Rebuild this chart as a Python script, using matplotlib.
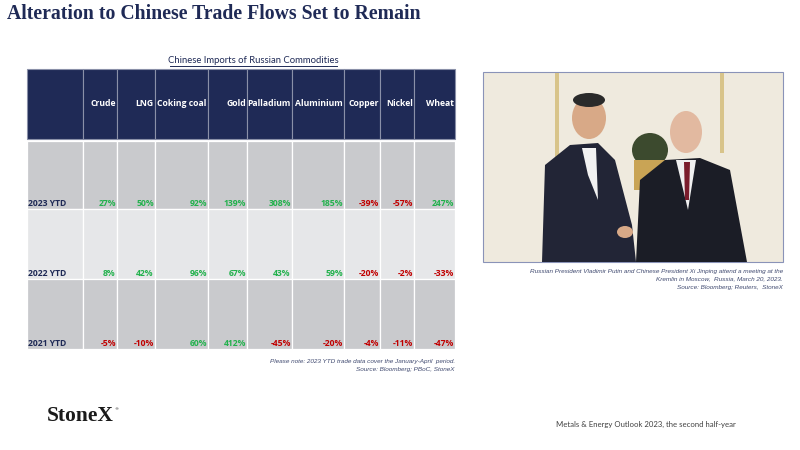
import matplotlib
matplotlib.use("Agg")
import matplotlib.pyplot as plt
from matplotlib.patches import Rectangle, Ellipse, Polygon

# table data
commodities = ["Crude", "LNG", "Coking coal", "Gold", "Palladium",
               "Aluminium", "Copper", "Nickel", "Wheat"]
years = ["2023 YTD", "2022 YTD", "2021 YTD"]
v2023 = [27, 50, 92, 139, 308, 185, -39, -57, 247]
v2022 = [8, 42, 96, 67, 43, 59, -20, -2, -33]
v2021 = [-5, -10, 60, 412, -45, -20, -4, -11, -47]
values = [v2023, v2022, v2021]

NAVY = "#1f2a56"
GREEN = "#22b14c"
RED = "#c00000"
ROW_BG = ["#c9cacd", "#e6e7e9", "#c9cacd"]

fig = plt.figure(figsize=(8, 4.5), dpi=100)
ax = fig.add_axes([0, 0, 1, 1])
ax.set_xlim(0, 800)
ax.set_ylim(450, 0)
ax.axis("off")

# title
ax.text(7, 14, "Alteration to Chinese Trade Flows Set to Remain",
        family="Liberation Serif", weight="bold", fontsize=14.2,
        color=NAVY, va="center", ha="left")

# table layout (pixels)
col_edges = [27, 83, 117, 155, 208, 247, 292, 344, 380, 414, 455]
head_top, head_bot = 69, 139
row_edges = [141, 209, 279, 349]

ax.text(253.5, 60.5, "Chinese Imports of Russian Commodities",
        family="Lato", fontsize=6.8, color=NAVY, ha="center", va="center")
ax.plot([170, 337], [65.5, 65.5], color=NAVY, lw=0.7)

tf = dict(family="Open Sans", weight="bold", fontsize=6.2)

for i in range(len(col_edges) - 1):
    x0, x1 = col_edges[i], col_edges[i + 1]
    ax.add_patch(Rectangle((x0, head_top), x1 - x0, head_bot - head_top,
                           facecolor=NAVY, edgecolor="#8a90a8", lw=0.8))
    if i > 0:
        ax.text(x1 - 1.2, 104, commodities[i - 1], color="white",
                ha="right", va="center", **tf)

for r, yr in enumerate(years):
    y0, y1 = row_edges[r], row_edges[r + 1]
    for i in range(len(col_edges) - 1):
        x0, x1 = col_edges[i], col_edges[i + 1]
        ax.add_patch(Rectangle((x0, y0), x1 - x0, y1 - y0,
                               facecolor=ROW_BG[r], edgecolor="white", lw=0.9))
    ax.text(col_edges[0] + 1, y1 - 5, yr, color=NAVY,
            ha="left", va="center", **tf)
    for i, v in enumerate(values[r]):
        ax.text(col_edges[i + 2] - 1.2, y1 - 5, f"{v}%",
                color=GREEN if v >= 0 else RED, ha="right", va="center", **tf)

ax.text(455, 362, "Please note: 2023 YTD trade data cover the January-April  period.",
        family="Liberation Sans", style="italic", fontsize=4.6, color="#404a70",
        ha="right", va="center")
ax.text(455, 370, "Source: Bloomberg; PBoC, StoneX",
        family="Liberation Sans", style="italic", fontsize=4.6, color="#404a70",
        ha="right", va="center")

# photo placeholder (stylised)
px0, py0, px1, py1 = 483, 72, 783, 262
ax.add_patch(Rectangle((px0, py0), px1 - px0, py1 - py0,
                       facecolor="#efeade", edgecolor="#8a93b8", lw=0.8, zorder=1))
ax.add_patch(Rectangle((555, py0 + 0.5), 4, py1 - py0 - 1, facecolor="#d8c48a", zorder=2))
ax.add_patch(Rectangle((720, py0 + 0.5), 4, 80, facecolor="#d8c48a", zorder=2))
ax.add_patch(Ellipse((650, 150), 36, 34, facecolor="#3c4a2e", zorder=2))
ax.add_patch(Rectangle((634, 160), 32, 30, facecolor="#c9a455", zorder=2))
ax.add_patch(Polygon([(542, 262), (545, 165), (570, 145), (598, 143), (615, 160),
                      (632, 225), (636, 262)], closed=True, facecolor="#222536", zorder=3))
ax.add_patch(Polygon([(582, 148), (596, 148), (598, 200), (588, 175)],
                     closed=True, facecolor="#f2f2f2", zorder=4))
ax.add_patch(Ellipse((589, 118), 34, 42, facecolor="#d8a987", zorder=4))
ax.add_patch(Ellipse((589, 100), 32, 14, facecolor="#2a2a2a", zorder=5))
ax.add_patch(Polygon([(636, 262), (640, 180), (665, 160), (700, 158), (730, 170),
                      (747, 262)], closed=True, facecolor="#1b1d26", zorder=3))
ax.add_patch(Polygon([(676, 160), (696, 160), (688, 210)],
                     closed=True, facecolor="#f0f0f0", zorder=4))
ax.add_patch(Polygon([(684, 162), (690, 162), (689, 200), (685, 200)],
                     closed=True, facecolor="#7a1c2c", zorder=5))
ax.add_patch(Ellipse((686, 132), 32, 42, facecolor="#e2b9a0", zorder=4))
ax.add_patch(Ellipse((625, 232), 16, 12, facecolor="#d8a987", zorder=6))

cap = dict(family="Liberation Sans", style="italic", fontsize=4.6,
           color="#404a70", ha="right", va="center")
ax.text(783, 271, "Russian President Vladimir Putin and Chinese President Xi Jinping "
        "attend a meeting at the", **cap)
ax.text(783, 279, "Kremlin in Moscow,  Russia, March 20, 2023.", **cap)
ax.text(783, 287, "Source: Bloomberg; Reuters,  StoneX", **cap)

# footer
ax.text(47, 416, "StoneX", family="Liberation Serif", weight="bold",
        fontsize=15.5, color="#1a1a1a", ha="left", va="center")
ax.text(114, 409, "\u00ae", family="DejaVu Sans", fontsize=3,
        color="#1a1a1a", ha="left", va="center")
ax.text(556, 424, "Metals & Energy Outlook 2023, the second half-year",
        family="Lato", fontsize=5.6, color="#404040", ha="left", va="center")

fig.savefig("out.png", dpi=100)
